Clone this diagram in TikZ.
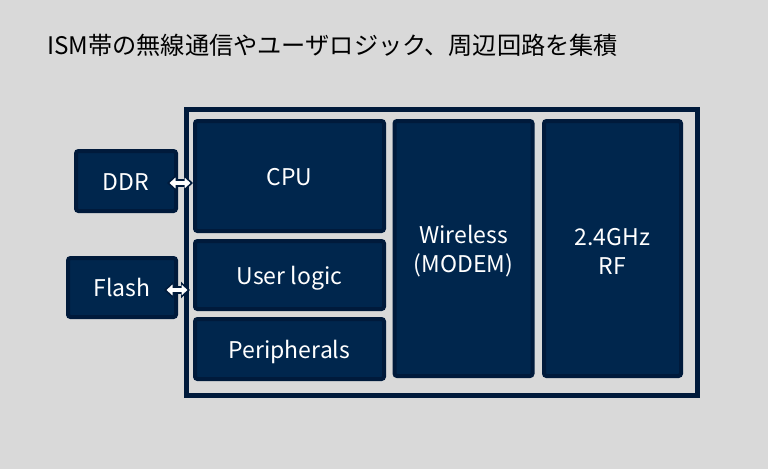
\documentclass[tikz,border=0pt]{standalone}
\usepackage{fontspec}
\setmainfont{Noto Sans CJK JP}
\usetikzlibrary{arrows.meta}
\definecolor{bg}{HTML}{D9D9D9}
\definecolor{navy}{HTML}{00264D}
\definecolor{edge}{HTML}{001A3B}
\tikzset{
  block/.style={draw=edge, fill=navy, line width=4pt, rounded corners=2.5pt,
    text=white, font=\fontsize{23}{29}\selectfont, align=center, inner sep=0pt},
  oneline/.style={text height=19pt, text depth=1pt},
  txt/.style={text=white, font=\fontsize{23}{29}\selectfont, align=center, inner sep=0pt},
  frame/.style={draw=edge, line width=5pt, fill=bg},
  arrdark/.style={draw=edge, line width=8pt, {Triangle[length=9pt,width=16pt]}-{Triangle[length=9pt,width=16pt]}},
  arrwhite/.style={draw=white, line width=3.6pt, shorten <=2.5pt, shorten >=2.5pt, {Triangle[length=6pt,width=10.5pt]}-{Triangle[length=6pt,width=10.5pt]}}
}
\begin{document}
\begin{tikzpicture}[x=1pt,y=-1pt]
\useasboundingbox[fill=bg] (0,0) rectangle (768,469);
\node[anchor=west, font=\fontsize{24.2}{29}\selectfont, text=black, inner sep=0pt] (title) at (47,45) {ISM帯の無線通信やユーザロジック、周辺回路を集積};
\draw[frame] (186.5,109.5) rectangle (697.5,395.5);
\node[block, oneline, minimum width=189pt, minimum height=110pt] (cpu) at (289.5,176) {CPU};
\node[block, oneline, minimum width=189pt, minimum height=68pt] (user) at (289.5,275) {User logic};
\node[block, oneline, minimum width=189pt, minimum height=60pt] (peri) at (289.5,349) {Peripherals};
\node[block, minimum width=138pt, minimum height=255pt,
  label={[txt, yshift=-2.5pt]center:{Wireless\\(MODEM)}}] (wire) at (463.5,248.5) {};
\node[block, minimum width=137pt, minimum height=255pt,
  label={[txt, yshift=-2.5pt]center:{2.4GHz\\RF}}] (rf) at (612.5,248.5) {};
\node[block, oneline, minimum width=100pt, minimum height=60pt] (ddr) at (126,181) {DDR};
\node[block, oneline, minimum width=108pt, minimum height=59pt] (flash) at (122,287.5) {Flash};
\draw[arrdark] ([xshift=-11pt,yshift=-2pt]ddr.east) -- ([yshift=-2pt]ddr.east -| cpu.west);
\draw[arrwhite] ([xshift=-11pt,yshift=-2pt]ddr.east) -- ([yshift=-2pt]ddr.east -| cpu.west);
\draw[arrdark] ([xshift=-14pt,yshift=-2.5pt]flash.east) -- ([xshift=-3pt,yshift=-2.5pt]flash.east -| user.west);
\draw[arrwhite] ([xshift=-14pt,yshift=-2.5pt]flash.east) -- ([xshift=-3pt,yshift=-2.5pt]flash.east -| user.west);
\end{tikzpicture}
\end{document}
